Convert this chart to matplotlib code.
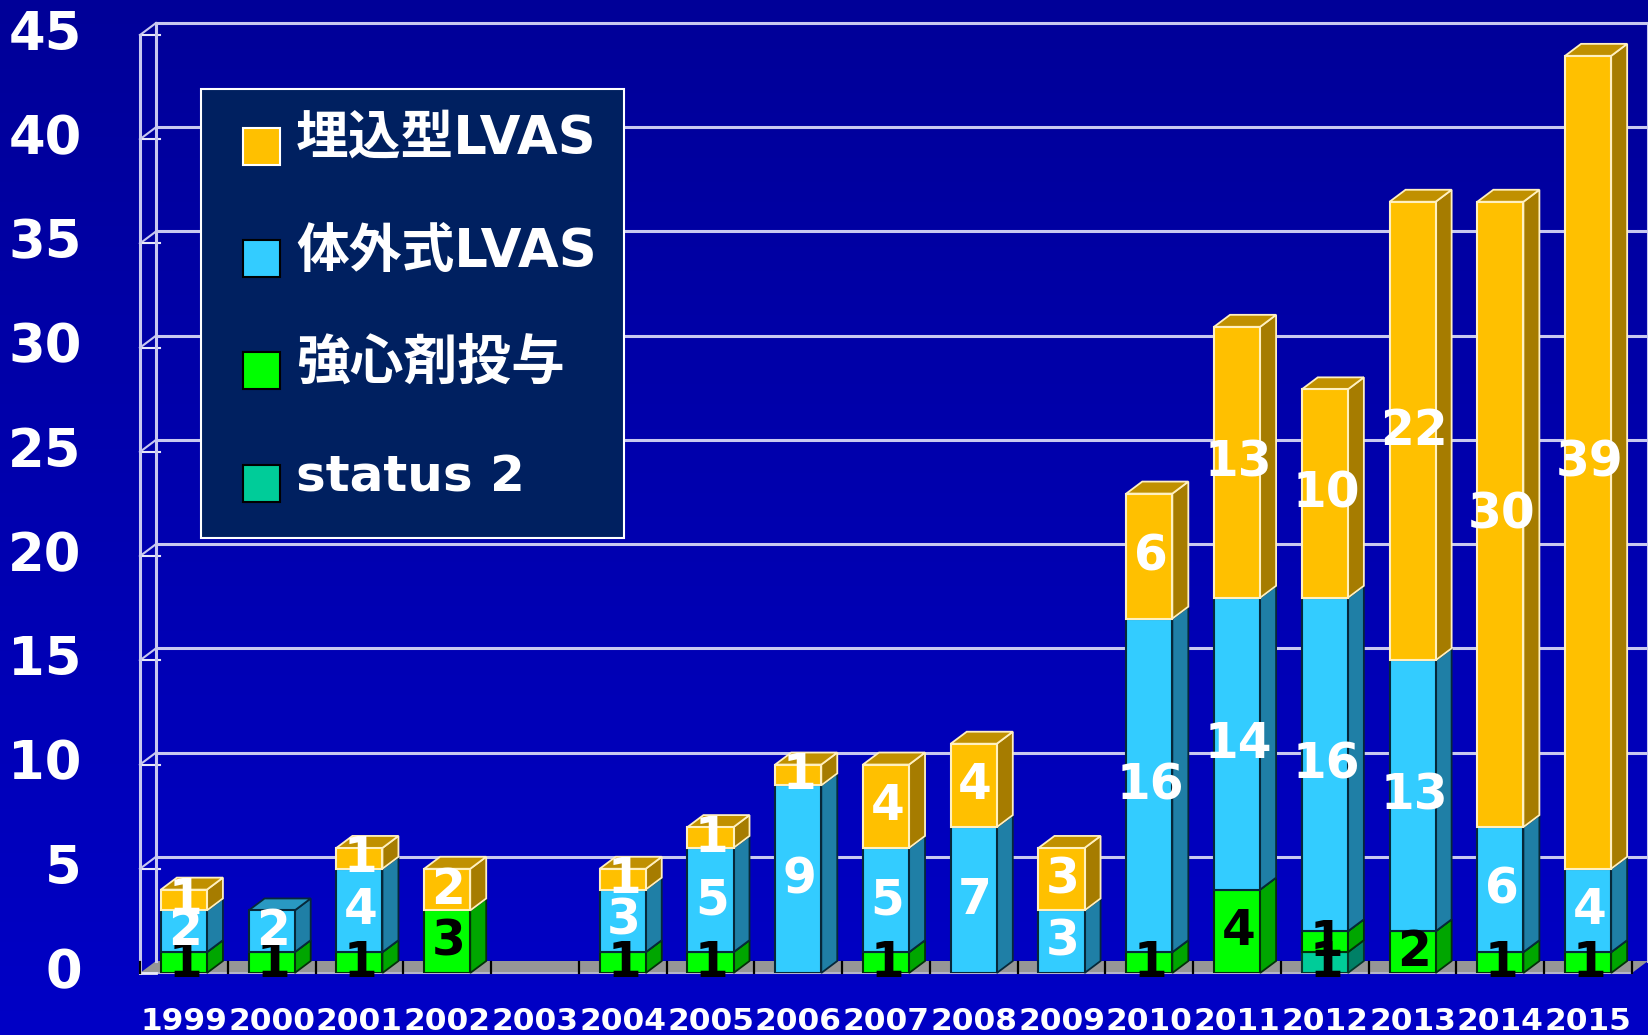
# Stacked yearly bars drawn with a fake 3D look
import numpy as np
import matplotlib
matplotlib.use("Agg")
import matplotlib.pyplot as plt
from matplotlib.patches import Polygon, Rectangle
from matplotlib.transforms import ScaledTranslation

# Data
years = ["1999", "2000", "2001", "2002", "2003", "2004", "2005", "2006", "2007",
         "2008", "2009", "2010", "2011", "2012", "2013", "2014", "2015"]
status2 = [0, 0, 0, 0, 0, 0, 0, 0, 0, 0, 0, 0, 0, 1, 0, 0, 0]
inotrope = [1, 1, 1, 3, 0, 1, 1, 0, 1, 0, 0, 1, 4, 1, 2, 1, 1]
external_lvas = [2, 2, 4, 0, 0, 3, 5, 9, 5, 7, 3, 16, 14, 16, 13, 6, 4]
implant_lvas = [1, 0, 1, 2, 0, 1, 1, 1, 4, 4, 3, 6, 13, 10, 22, 30, 39]
y_ticks = [0, 5, 10, 15, 20, 25, 30, 35, 40, 45]
legend_labels = ["埋込型LVAS", "体外式LVAS", "強心剤投与", "status 2"]

# Figure size in pixels
W = 1648
H = 1035

# Series styling: front, side, top, edge, label colour
series = [
    (status2, "#00CC99", "#008066", "#00A37A", "#06382C", "black"),
    (inotrope, "#00FF00", "#00A600", "#00C800", "#04300A", "black"),
    (external_lvas, "#33CCFF", "#1F7FA6", "#2999C2", "#06283A", "white"),
    (implant_lvas, "#FFC000", "#A67C00", "#C09000", "#FFF0C0", "white"),
]
legend_colors = ["#FFC000", "#33CCFF", "#00FF00", "#00CC99"]
legend_edges = ["white", "black", "black", "black"]

grid_col = "#C8C8F0"
label_font = ["DejaVu Sans", "Noto Sans CJK JP"]

fig = plt.figure(figsize=(W / 100, H / 100), dpi=100)

# Background gradient
bg = fig.add_axes([0, 0, 1, 1], zorder=0)
bg.axis("off")
shade = np.linspace(0, 1, 256).reshape(-1, 1)
rgb = np.zeros((256, 1, 3))
rgb[:, :, 2] = (152 + shade * 46) / 255
bg.imshow(rgb, aspect="auto", extent=[0, 1, 0, 1])

# Front plane of the chart box sits on these pixels
left, right, top, bottom = 140, 1632, 35, 973
ax = fig.add_axes([left / W, 1 - bottom / H, (right - left) / W, (bottom - top) / H], zorder=1)
ax.patch.set_alpha(0)
ax.set_xlim(0, len(years))
ax.set_ylim(0, 45)
for s in ax.spines.values():
    s.set_visible(False)

# Depth of the 3D effect in data units
dx = 16 / ((right - left) / len(years))
dy = 12 / ((bottom - top) / 45)
bar_w = 0.525
xs = np.arange(len(years)) + 0.5
n = len(years)

# Floor
ax.add_patch(Polygon([(0, 0), (n, 0), (n + dx, dy), (dx, dy)], closed=True, fc="#969696",
                     ec="none", clip_on=False, zorder=1))
ax.plot([0, n], [0, 0], color="#B4B4C8", lw=1.5, clip_on=False, zorder=2)
ax.plot([0, dx], [0, 0], color="#E8E8F8", lw=2, clip_on=False, zorder=2)
for i in range(n + 1):
    ax.plot([i, i], [0, dy * 0.95], color="black", lw=1.6, clip_on=False, zorder=2)

# Walls and grid
for t in y_ticks:
    if t > 0:
        ax.plot([dx, n + dx], [t + dy, t + dy], color=grid_col, lw=2.2, clip_on=False, zorder=1)
        ax.plot([0, dx], [t, t + dy], color=grid_col, lw=1.5, clip_on=False, zorder=1)
        ax.plot([0, dx * 1.25], [t, t], color="#E8E8F8", lw=1.5, clip_on=False, zorder=1)
ax.plot([0, 0], [0, 45], color=grid_col, lw=2.2, clip_on=False, zorder=1)
ax.plot([dx, dx], [dy, 45 + dy], color=grid_col, lw=2.2, clip_on=False, zorder=1)
ax.plot([n + dx, n + dx], [dy, 45 + dy], color=grid_col, lw=2.2, clip_on=False, zorder=1)

# Bars
base = np.zeros(n)
z = 3
for vals, front, side, roof, edge, txt in series:
    vals = np.array(vals)
    for i in range(n):
        if vals[i] == 0:
            continue
        x0 = xs[i] - bar_w / 2
        x1 = xs[i] + bar_w / 2
        y0 = base[i]
        y1 = base[i] + vals[i]
        ax.add_patch(Polygon([(x1, y0), (x1 + dx, y0 + dy), (x1 + dx, y1 + dy), (x1, y1)], closed=True,
                             fc=side, ec=edge, lw=1.3, clip_on=False, zorder=z))
        ax.add_patch(Polygon([(x0, y1), (x1, y1), (x1 + dx, y1 + dy), (x0 + dx, y1 + dy)], closed=True,
                             fc=roof, ec=edge, lw=1.3, clip_on=False, zorder=z))
        ax.bar(xs[i], vals[i], bar_w, bottom=y0, color=front, edgecolor=edge, linewidth=1.5, zorder=z + 0.5)
        ax.text(xs[i] + 0.015, y0 + vals[i] / 2, str(vals[i]), color=txt, fontsize=35, fontweight="bold",
                ha="center", va="center", zorder=20, clip_on=False)
    base = base + vals
    z += 1

# Axis labels
ax.set_xticks(xs)
ax.set_xticklabels(years, fontsize=22.5, fontweight="bold", color="white")
ax.set_yticks(y_ticks)
ax.set_yticklabels([str(t) for t in y_ticks], fontsize=38, fontweight="bold", color="white")
ax.tick_params(axis="x", length=0, pad=24.5)
ax.tick_params(axis="y", length=0, pad=42)
# y labels sit a little above their ticks
up = ScaledTranslation(0, 5.5 / 100, fig.dpi_scale_trans)
for lab in ax.get_yticklabels():
    lab.set_transform(lab.get_transform() + up)

# Legend box, placed by hand
def fx(p):
    return p / W

def fy(p):
    return 1 - p / H

fig.add_artist(Rectangle((fx(201), fy(538)), fx(423), (538 - 89) / H, transform=fig.transFigure,
                         fc="#002060", ec="white", lw=1.5, zorder=10))
sw_y = [128, 240, 352, 465]
txt_y = [139, 252, 364, 477]
txt_size = [38, 38, 38.7, 36]
for lab, c, e, sy, ty, fs in zip(legend_labels, legend_colors, legend_edges, sw_y, txt_y, txt_size):
    fig.add_artist(Rectangle((fx(242.5), fy(sy + 37)), fx(37), 37 / H, transform=fig.transFigure,
                             fc=c, ec=e, lw=1.5, zorder=11))
    t = fig.text(fx(296), fy(ty), lab, family=label_font, fontsize=fs, fontweight="bold", color="white",
                 ha="left", va="center", zorder=12)

fig.savefig("out.png", dpi=100)
